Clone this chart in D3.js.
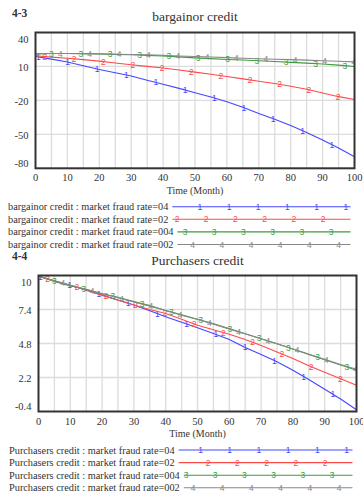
<!DOCTYPE html>
<html>
<head>
<meta charset="utf-8">
<script src="https://cdn.jsdelivr.net/npm/d3@7"></script>
<style>
  body { margin: 0; background: #fff; }
  text { font-family: "Liberation Serif", "Times New Roman", serif; fill: #333; }
</style>
</head>
<body>
<svg id="chart" width="363" height="493"></svg>
<script>
// time axis (months) and tick labels
const months = [0, 5, 10, 15, 20, 25, 30, 35, 40, 45, 50, 55, 60, 65, 70, 75, 80, 85, 90, 95, 100];
const monthTicks = [0, 10, 20, 30, 40, 50, 60, 70, 80, 90, 100];
const bargainorTicks = [40, 10, -20, -50, -80];
const purchasersTicks = [10, 7.4, 4.8, 2.2, -0.4];
const rateLabels = ["market fraud rate=04", "market fraud rate=02", "market fraud rate=004", "market fraud rate=002"];

// bargainor credit, one array per fraud rate
const bargainor04  = [18.8, 16.5, 13.9, 10.6, 7.3, 4.5, 1.5, -2.2, -5.8, -9.4, -13.2, -17.0, -21.2, -26.0, -31.5, -36.7, -42.2, -48.3, -55.0, -62.0, -69.7];
const bargainor02  = [19.5, 18.2, 17.2, 16.0, 14.7, 13.1, 11.5, 10.1, 8.6, 6.8, 5.0, 3.1, 1.1, -1.0, -3.1, -5.1, -7.5, -10.2, -13.4, -16.7, -19.2];
const bargainor004 = [21.0, 21.4, 21.4, 21.3, 21.1, 20.7, 20.3, 19.8, 19.2, 18.5, 17.6, 16.9, 16.2, 15.7, 15.1, 14.4, 13.6, 12.9, 12.1, 11.2, 10.0];
const bargainor002 = [21.2, 21.4, 21.4, 21.2, 21.0, 20.8, 20.6, 20.3, 19.8, 19.2, 18.8, 18.4, 17.8, 17.3, 16.8, 16.4, 16.0, 15.6, 15.1, 14.6, 14.0];

// purchasers credit
const purchasers04  = [9.95, 9.6, 9.25, 8.87, 8.5, 8.12, 7.75, 7.3, 6.85, 6.42, 6.0, 5.57, 5.1, 4.5, 3.95, 3.4, 2.75, 2.05, 1.3, 0.55, -0.26];
const purchasers02  = [9.95, 9.6, 9.25, 8.9, 8.5, 8.1, 7.75, 7.4, 7.1, 6.65, 6.2, 5.85, 5.5, 5.1, 4.65, 4.15, 3.65, 3.1, 2.6, 2.1, 1.6];
const purchasers004 = [9.95, 9.55, 9.2, 8.95, 8.6, 8.33, 8.0, 7.7, 7.33, 7.0, 6.65, 6.3, 5.92, 5.55, 5.17, 4.78, 4.38, 3.97, 3.55, 3.15, 2.76];
const purchasers002 = [9.95, 9.58, 9.25, 8.93, 8.6, 8.3, 7.98, 7.66, 7.32, 6.96, 6.63, 6.3, 5.92, 5.55, 5.17, 4.78, 4.38, 3.98, 3.6, 3.2, 2.83];

const colors = ["#4646ff", "#ff4a4a", "#3c9c3c", "#888888"];
const markerGlyphs = ["1", "2", "3", "4"];

const svg = d3.select("#chart");

function drawPanel(p) {
  const x = d3.scaleLinear().domain([0, 100]).range([p.left, p.right]);
  const y = d3.scaleLinear().domain([p.ticks[p.ticks.length - 1], p.ticks[0]]).range([p.bottom, p.top]);
  const g = svg.append("g");

  // number tag and title
  g.append("text").attr("x", 12).attr("y", p.top - 15.5)
    .style("font-weight", "bold").style("font-size", "11.5px").text(p.tag);
  g.append("text").attr("x", (p.left + p.right) / 2).attr("y", p.titleY)
    .attr("text-anchor", "middle").style("font-size", "13.5px").text(p.title);

  // grid
  d3.range(5, 100, 5).forEach(m => {
    g.append("line").attr("x1", x(m)).attr("x2", x(m)).attr("y1", p.top).attr("y2", p.bottom)
      .attr("stroke", "#dcdcdc").attr("stroke-width", 1.3);
  });
  p.ticks.slice(1, -1).forEach(v => {
    g.append("line").attr("x1", p.left).attr("x2", p.right).attr("y1", y(v)).attr("y2", y(v))
      .attr("stroke", "#dcdcdc").attr("stroke-width", 1.3);
  });

  // series
  const clipId = "clip" + p.tag;
  svg.append("clipPath").attr("id", clipId).append("rect")
    .attr("x", p.left).attr("y", p.top).attr("width", p.right - p.left).attr("height", p.bottom - p.top);
  const line = d3.line().x((d, i) => x(months[i])).y(d => y(d));
  const plot = g.append("g").attr("clip-path", `url(#${clipId})`);
  p.series.forEach((s, k) => {
    plot.append("path").datum(s).attr("d", line).attr("fill", "none")
      .attr("stroke", colors[k]).attr("stroke-width", 1.1);
    const interp = d3.scaleLinear().domain(months).range(s);
    for (let m = p.markerStart[k]; m <= 100; m += 9.2) {
      plot.append("text").attr("x", x(m)).attr("y", y(interp(m)) + 3)
        .attr("text-anchor", "middle").style("font-family", "Liberation Sans, Arial, sans-serif")
        .style("font-size", "8.5px").style("fill", colors[k]).text(markerGlyphs[k]);
    }
  });

  // frame
  g.append("rect").attr("x", p.left).attr("y", p.top).attr("width", p.right - p.left).attr("height", p.bottom - p.top)
    .attr("fill", "none").attr("stroke", "#333").attr("stroke-width", 2);

  // y labels
  p.ticks.forEach((v, i) => {
    let cy = y(v) + 1;
    if (i === 0) cy = p.top + 6.5;
    if (i === p.ticks.length - 1) cy = p.bottom - 5.5;
    g.append("text").attr("x", p.left - 7).attr("y", cy + 3.8).attr("text-anchor", "end")
      .style("font-size", "10.5px").text(v);
  });
  // x labels
  monthTicks.forEach(m => {
    g.append("text").attr("x", x(m)).attr("y", p.bottom + 13).attr("text-anchor", "middle")
      .style("font-size", "10.5px").text(m);
  });
  g.append("text").attr("x", (p.left + p.right) / 2).attr("y", p.bottom + 25.5).attr("text-anchor", "middle")
    .style("font-size", "10px").text("Time (Month)");

  // legend
  p.series.forEach((s, k) => {
    const ly = p.legendY + k * 12.6;
    const t = g.append("text").attr("x", p.legendX).attr("y", ly + 3.5)
      .style("font-size", "10.3px").text(p.title + " : " + rateLabels[k]);
    const x0 = p.legendX + t.node().getComputedTextLength() + 4;
    const x1 = p.legendEnd;
    g.append("line").attr("x1", x0).attr("x2", x1).attr("y1", ly).attr("y2", ly)
      .attr("stroke", colors[k]).attr("stroke-width", 1.1);
    for (let mx = p.legendMarks[k]; mx < x1 - 2; mx += 29.2) {
      if (mx < x0 + 1) continue;
      g.append("text").attr("x", mx).attr("y", ly + 3).attr("text-anchor", "middle")
        .style("font-family", "Liberation Sans, Arial, sans-serif")
        .style("font-size", "8.5px").style("fill", colors[k]).text(markerGlyphs[k]);
    }
  });
}

drawPanel({
  tag: "4-3", title: "bargainor credit", titleY: 20.5,
  left: 35.5, right: 354.5, top: 32.5, bottom: 168.3,
  ticks: bargainorTicks,
  series: [bargainor04, bargainor02, bargainor004, bargainor002],
  markerStart: [0.9, 2.9, 5.0, 7.8],
  legendX: 8, legendY: 206.7, legendEnd: 350.5,
  legendMarks: [199.8, 177, 185, 192.6]
});

drawPanel({
  tag: "4-4", title: "Purchasers credit", titleY: 265,
  left: 38.5, right: 356.5, top: 275.5, bottom: 411.5,
  ticks: purchasersTicks,
  series: [purchasers04, purchasers02, purchasers004, purchasers002],
  markerStart: [0.6, 2.9, 5.0, 7.7],
  legendX: 9, legendY: 450, legendEnd: 352.5,
  legendMarks: [200.5, 179, 186, 193]
});
</script>
</body>
</html>
